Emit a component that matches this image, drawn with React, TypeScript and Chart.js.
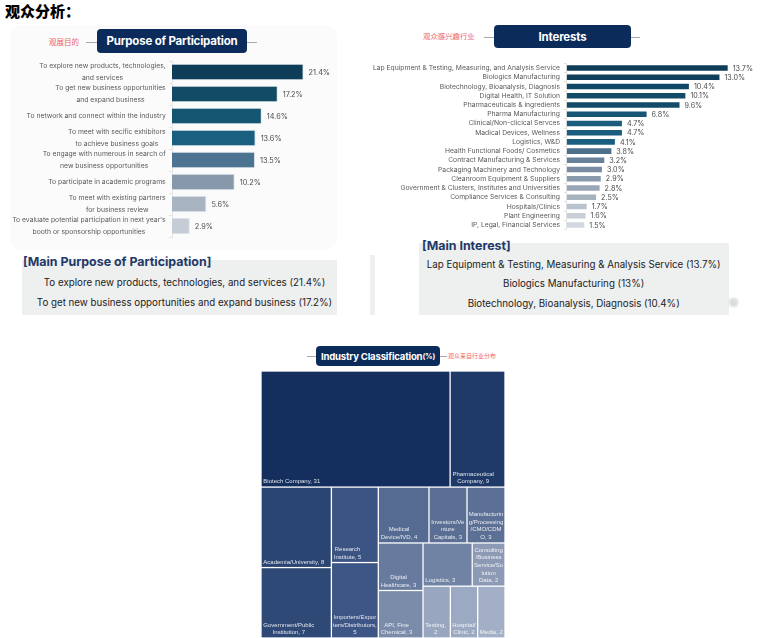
import { useEffect, useRef } from "react";
import { Chart, registerables } from "chart.js";

Chart.register(...registerables);

const SANS = "Inter, 'Noto Sans', sans-serif";
const CJK = "'Noto Sans CJK SC', sans-serif";

// ---- Purpose of Participation ----
const purposeLabels: string[][] = [
  ["To explore new products, technologies,", "and services"],
  ["To get new business opportunities", "and expand business"],
  ["To network and connect within the industry"],
  ["To meet with secific exhibitors", "to achieve business goals"],
  ["To engage with numerous in search of", "new business opportunities"],
  ["To participate in academic programs"],
  ["To meet with existing partners", "for business review"],
  ["To evaluate potential participation in next year's", "booth or sponsorship opportunities"],
];
const purposeValues = [21.4, 17.2, 14.6, 13.6, 13.5, 10.2, 5.6, 2.9];
const purposeColors = ["#0e3e57", "#124b66", "#145672", "#185f80", "#4c7390", "#8898ab", "#a9b4c2", "#c5ccd5"];
const purposeHighlights = [
  "To explore new products, technologies, and services (21.4%)",
  "To get new business opportunities and expand business (17.2%)",
];

// ---- Interests ----
const interestLabels = [
  "Lap Equipment & Testing, Measuring, and Analysis Service",
  "Biologics Manufacturing",
  "Biotechnology, Bioanalysis, Diagnosis",
  "Digital Health, IT Solution",
  "Pharmaceuticals & ingredients",
  "Pharma Manufacturing",
  "Clinical/Non-clicical Servces",
  "Madical Devices, Wellness",
  "Logistics, W&D",
  "Health Functional Foods/ Cosmetics",
  "Contract Manufacturing & Services",
  "Packaging Machinery and Technology",
  "Cleanroom Equipment & Suppliers",
  "Government & Clusters, Institutes and Universities",
  "Compliance Services & Consulting",
  "Hospitals/Clinics",
  "Plant Engineering",
  "IP, Legal, Financial Services",
];
const interestValues = [13.7, 13.0, 10.4, 10.1, 9.6, 6.8, 4.7, 4.7, 4.1, 3.8, 3.2, 3.0, 2.9, 2.8, 2.5, 1.7, 1.6, 1.5];
const interestColors = [
  "#0e3d58", "#0f3f5a", "#114766", "#124a68", "#134b69", "#165574", "#1b5d7e", "#1b5d7e", "#1b5f80",
  "#4d708b", "#678199", "#798ca2", "#8a9aad", "#98a6b6", "#a7b2bf", "#bac3cd", "#c7ced7", "#d3d8df",
];
const interestHighlights = [
  "Lap Equipment & Testing, Measuring & Analysis Service (13.7%)",
  "Biologics Manufacturing (13%)",
  "Biotechnology, Bioanalysis, Diagnosis (10.4%)",
];

// ---- Industry Classification ----
const industryNames = [
  "Biotech Company",
  "Pharmaceutical Company",
  "Academia/University",
  "Government/Public Institution",
  "Research Institute",
  "Importers/Exporters/Distributors",
  "Medical Device/IVD",
  "Investors/Venture Capitals",
  "Manufacturing/Processing/CMO/CDMO",
  "Digital Healthcare",
  "API, Fine Chemical",
  "Logistics",
  "Consulting/Business Service/Solution Data",
  "Testing",
  "Hospital/Clinic",
  "Media",
];
const industryValues = [31, 9, 8, 7, 5, 5, 4, 3, 3, 3, 3, 3, 2, 2, 2, 2];
const industryColors = [
  "#142f5d", "#1f3a68", "#2b4573", "#2f4977", "#3c5483", "#3e5685", "#566b92", "#5b6f95",
  "#5c7096", "#687b9e", "#7a8caa", "#7083a4", "#8c9ab6", "#98a6bf", "#9ca9c2", "#a3afc6",
];

type Rect = { x0: number; y0: number; x1: number; y1: number };

// Squarified treemap layout (rows along the shorter side, aspect target = ratio)
function squarify(values: number[], x0: number, y0: number, x1: number, y1: number, ratio: number): Rect[] {
  const rects: Rect[] = [];
  const n = values.length;
  let value = values.reduce((a, b) => a + b, 0);
  let i0 = 0;
  let i1 = 0;
  while (i0 < n) {
    const dx = x1 - x0;
    const dy = y1 - y0;
    let sumValue = values[i1++];
    let minValue = sumValue;
    let maxValue = sumValue;
    const alpha = Math.max(dy / dx, dx / dy) / (value * ratio);
    let beta = sumValue * sumValue * alpha;
    let minRatio = Math.max(maxValue / beta, beta / minValue);
    for (; i1 < n; ++i1) {
      const v = values[i1];
      sumValue += v;
      const mn = Math.min(minValue, v);
      const mx = Math.max(maxValue, v);
      beta = sumValue * sumValue * alpha;
      const newRatio = Math.max(mx / beta, beta / mn);
      if (newRatio > minRatio) {
        sumValue -= v;
        break;
      }
      minValue = mn;
      maxValue = mx;
      minRatio = newRatio;
    }
    const last = i1 >= n;
    if (dx < dy) {
      const yb = last ? y1 : y0 + (dy * sumValue) / value;
      let x = x0;
      for (let i = i0; i < i1; i++) {
        const w = (dx * values[i]) / sumValue;
        rects[i] = { x0: x, y0, x1: x + w, y1: yb };
        x += w;
      }
      y0 = yb;
    } else {
      const xb = last ? x1 : x0 + (dx * sumValue) / value;
      let y = y0;
      for (let i = i0; i < i1; i++) {
        const h = (dy * values[i]) / sumValue;
        rects[i] = { x0, y0: y, x1: xb, y1: y + h };
        y += h;
      }
      x0 = xb;
    }
    value -= sumValue;
    i0 = i1;
  }
  return rects;
}

// Word wrap; words longer than the box are broken by character
function wrapLabel(ctx: CanvasRenderingContext2D, text: string, maxW: number): string[] {
  const lines: string[] = [];
  let cur = "";
  const fits = (s: string) => ctx.measureText(s).width <= maxW;
  for (const word of text.split(" ")) {
    const trial = cur ? cur + " " + word : word;
    if (fits(trial)) {
      cur = trial;
      continue;
    }
    if (cur) lines.push(cur);
    cur = "";
    if (fits(word)) {
      cur = word;
      continue;
    }
    for (const ch of word) {
      if (cur && !fits(cur + ch)) {
        lines.push(cur);
        cur = ch;
      } else cur += ch;
    }
  }
  if (cur) lines.push(cur);
  return lines;
}

function sideLabels(lines: string[][], font: string, color: string, lineHeight: number, gap: number) {
  return {
    id: "sideLabels",
    afterDraw(chart: any) {
      const { ctx, chartArea } = chart;
      const yScale = chart.scales.y;
      ctx.save();
      ctx.font = font;
      ctx.fillStyle = color;
      ctx.textAlign = "center";
      ctx.textBaseline = "middle";
      lines.forEach((ls, i) => {
        const cy = yScale.getPixelForValue(i);
        const w = Math.max(...ls.map((l) => ctx.measureText(l).width));
        const cx = chartArea.left - gap - w / 2;
        ls.forEach((l, j) => ctx.fillText(l, cx, cy + (j - (ls.length - 1) / 2) * lineHeight));
      });
      ctx.restore();
    },
  };
}

function valueLabels(font: string, color: string, offset: number) {
  return {
    id: "valueLabels",
    afterDatasetsDraw(chart: any) {
      const { ctx } = chart;
      const data = chart.data.datasets[0].data as number[];
      ctx.save();
      ctx.font = font;
      ctx.fillStyle = color;
      ctx.textAlign = "left";
      ctx.textBaseline = "middle";
      chart.getDatasetMeta(0).data.forEach((bar: any, i: number) => {
        ctx.fillText(`${data[i].toFixed(1)}%`, bar.x + offset, bar.y + 0.5);
      });
      ctx.restore();
    },
  };
}

const treemapCells = {
  id: "treemapCells",
  afterDatasetsDraw(chart: any) {
    const { ctx, chartArea: a } = chart;
    const xs = chart.scales.x;
    const ys = chart.scales.y;
    const aspect = a.width / a.height;
    const rects = squarify(industryValues, 0, 0, aspect, 1, 0.93);
    const gap = 0.65;
    ctx.save();
    rects.forEach((r, i) => {
      const px0 = xs.getPixelForValue(r.x0 / aspect) + gap;
      const px1 = xs.getPixelForValue(r.x1 / aspect) - gap;
      const py0 = ys.getPixelForValue(r.y0) + gap;
      const py1 = ys.getPixelForValue(r.y1) - gap;
      ctx.fillStyle = industryColors[i];
      ctx.fillRect(px0, py0, px1 - px0, py1 - py0);

      ctx.font = "6px 'Liberation Sans', Arial, sans-serif";
      const lines = wrapLabel(ctx, `${industryNames[i]}, ${industryValues[i]}`, px1 - px0 - 1.5);
      const blockW = Math.max(...lines.map((l) => ctx.measureText(l).width));
      const cx = px0 + Math.min(1.7, (px1 - px0 - blockW) / 2) + blockW / 2;
      const lh = 7.7;
      ctx.fillStyle = "rgba(255,255,255,0.86)";
      ctx.textAlign = "center";
      ctx.textBaseline = "middle";
      lines.forEach((l, j) => {
        ctx.fillText(l, cx, py1 - 4.8 - (lines.length - 1 - j) * lh);
      });
    });
    ctx.restore();
  },
};

function ChartCanvas({ make, left, top, width, height }: { make: (c: HTMLCanvasElement) => Chart; left: number; top: number; width: number; height: number }) {
  const ref = useRef<HTMLCanvasElement>(null);
  useEffect(() => {
    if (!ref.current) return;
    const chart = make(ref.current);
    return () => chart.destroy();
  }, []);
  return <canvas ref={ref} width={width} height={height} style={{ position: "absolute", left, top, width, height }} />;
}

function makePurpose(c: HTMLCanvasElement) {
  return new Chart(c, {
    type: "bar",
    data: {
      labels: purposeLabels.map((l) => l.join(" ")),
      datasets: [
        {
          data: purposeValues,
          backgroundColor: purposeColors,
          borderColor: "#dde4ea",
          borderWidth: 1,
          barPercentage: 0.75,
          categoryPercentage: 1,
        },
      ],
    },
    options: {
      indexAxis: "y",
      animation: false,
      responsive: false,
      layout: { padding: { top: 5, bottom: 5, left: 0, right: 14.25 } },
      scales: {
        x: { display: false, min: 0, max: 25 },
        y: {
          afterFit: (s: any) => {
            s.width = 172;
          },
          ticks: { display: false },
          grid: { drawOnChartArea: false, tickLength: 3, color: "#e4e4e4" },
          border: { color: "#e4e4e4" },
        },
      },
      plugins: { legend: { display: false }, tooltip: { enabled: false } },
    },
    plugins: [sideLabels(purposeLabels, `6.8px ${SANS}`, "#5a5a5a", 11.3, 6.3), valueLabels(`7.3px ${SANS}`, "#4a4a4a", 5)],
  } as any);
}

function makeInterests(c: HTMLCanvasElement) {
  return new Chart(c, {
    type: "bar",
    data: {
      labels: interestLabels,
      datasets: [
        {
          data: interestValues,
          backgroundColor: interestColors,
          borderWidth: 0,
          barPercentage: 0.6,
          categoryPercentage: 1,
        },
      ],
    },
    options: {
      indexAxis: "y",
      animation: false,
      responsive: false,
      layout: { padding: { top: 5.4, bottom: 5.4, left: 0, right: 15.3 } },
      scales: {
        x: { display: false, min: 0, max: 16 },
        y: {
          afterFit: (s: any) => {
            s.width = 196.7;
          },
          ticks: { display: false },
          grid: { drawOnChartArea: false, tickLength: 3, color: "#e4e4e4" },
          border: { color: "#e4e4e4" },
        },
      },
      plugins: { legend: { display: false }, tooltip: { enabled: false } },
    },
    plugins: [sideLabels(interestLabels.map((l) => [l]), `6.75px ${SANS}`, "#5a5a5a", 9, 6.7), valueLabels(`7.2px ${SANS}`, "#4a4a4a", 5)],
  } as any);
}

function makeTreemap(c: HTMLCanvasElement) {
  return new Chart(c, {
    type: "scatter",
    data: { datasets: [{ data: [] }] },
    options: {
      animation: false,
      responsive: false,
      layout: { padding: 0 },
      scales: {
        x: { type: "linear", min: 0, max: 1, display: false },
        y: { type: "linear", min: 0, max: 1, reverse: true, display: false },
      },
      plugins: { legend: { display: false }, tooltip: { enabled: false } },
    },
    plugins: [treemapCells],
  } as any);
}

const abs = (left: number, top: number, extra: any = {}) => ({ position: "absolute" as const, left, top, ...extra });

function Pill({ left, top, width, height, children, size }: any) {
  return (
    <div
      style={abs(left, top, {
        width,
        height,
        background: "#0b2b5b",
        borderRadius: 4,
        color: "#fff",
        fontFamily: SANS,
        fontWeight: 700,
        fontSize: size,
        display: "flex",
        alignItems: "center",
        justifyContent: "center",
        whiteSpace: "nowrap",
        letterSpacing: -0.2,
      })}
    >
      {children}
    </div>
  );
}

const Line = ({ x0, x1, y }: { x0: number; x1: number; y: number }) => (
  <div style={abs(x0, y, { width: x1 - x0, height: 1, background: "#a8a8a8" })} />
);

const RedNote = ({ left, cy, size, text }: { left: number; cy: number; size: number; text: string }) => (
  <div style={abs(left, cy - size * 0.7, { fontFamily: CJK, fontSize: size, lineHeight: `${size * 1.4}px`, color: "#f06565", whiteSpace: "nowrap" })}>
    {text}
  </div>
);

const CenterText = ({ cx, cy, text }: { cx: number; cy: number; text: string }) => (
  <div
    style={abs(cx - 200, cy - 7, {
      width: 400,
      height: 14,
      lineHeight: "14px",
      textAlign: "center",
      fontFamily: SANS,
      fontSize: 9.75,
      color: "#222",
      whiteSpace: "nowrap",
    })}
  >
    {text}
  </div>
);

const Heading = ({ left, cy, text }: { left: number; cy: number; text: string }) => (
  <div style={abs(left, cy - 8, { height: 16, lineHeight: "16px", fontFamily: SANS, fontWeight: 700, fontSize: 12.4, color: "#1f3968", whiteSpace: "nowrap" })}>
    {text}
  </div>
);

export default function App() {
  return (
    <div style={{ position: "absolute", left: 0, top: 0, width: 777, height: 638, background: "#fff", overflow: "hidden" }}>
      <div style={abs(5, 0, { fontFamily: CJK, fontWeight: 900, fontSize: 15, lineHeight: "21px", color: "#000" })}>观众分析：</div>

      {/* left panel */}
      <div style={abs(10, 25, { width: 327, height: 225, background: "#fbfbfb", borderRadius: 12 })} />
      <Line x0={86} x1={97} y={41.5} />
      <Line x0={247} x1={257} y={41.5} />
      <RedNote left={49} cy={42} size={7.5} text="观展目的" />
      <Pill left={97} top={29} width={150} height={24} size={11.5}>
        Purpose of Participation
      </Pill>
      <ChartCanvas make={makePurpose} left={0} top={56} width={340} height={186} />

      <div style={abs(22, 260, { width: 315, height: 55, background: "#eeefef" })} />
      <Heading left={23} cy={261.5} text="[Main Purpose of Participation]" />
      {purposeHighlights.map((t, i) => (
        <CenterText key={t} cx={184.5} cy={283 + i * 20} text={t} />
      ))}

      {/* right panel */}
      <Line x0={484} x1={494} y={36.5} />
      <Line x0={631} x1={640} y={36.5} />
      <RedNote left={423} cy={36.5} size={7.4} text="观众感兴趣行业" />
      <Pill left={494} top={25} width={137} height={23} size={11.5}>
        Interests
      </Pill>
      <ChartCanvas make={makeInterests} left={370} top={58} width={400} height={177} />

      <div style={abs(370, 255, { width: 5, height: 60, background: "#efefef" })} />
      <div style={abs(419, 243, { width: 310, height: 72, background: "#eeefef" })} />
      <div style={abs(729, 298, { width: 9, height: 9, background: "#dcdcdc", borderRadius: 4, filter: "blur(1px)" })} />
      <Heading left={422} cy={245.5} text="[Main Interest]" />
      {interestHighlights.map((t, i) => (
        <CenterText key={t} cx={573.7} cy={264.5 + i * 19.8} text={t} />
      ))}

      {/* industry treemap */}
      <Line x0={307} x1={316} y={355.5} />
      <Line x0={440} x1={447} y={355.5} />
      <Pill left={316} top={346} width={124} height={20} size={9.6}>
        Industry Classification<span style={{ fontSize: 7.5 }}>(%)</span>
      </Pill>
      <RedNote left={448} cy={356} size={6} text="观众来自行业分布" />
      <ChartCanvas make={makeTreemap} left={261} top={371} width={244} height={267} />
    </div>
  );
}
